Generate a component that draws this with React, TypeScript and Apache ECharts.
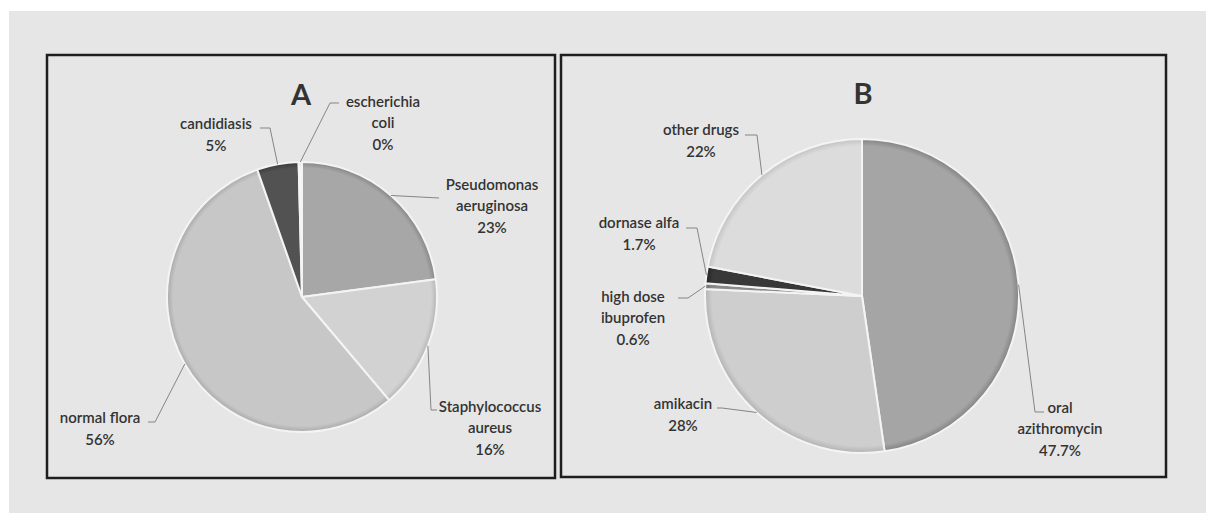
import React, { useEffect, useRef } from "react";
import * as echarts from "echarts";

// ---- Data ----
const categoriesA = [
  "Pseudomonas\naeruginosa",
  "Staphylococcus\naureus",
  "normal flora",
  "candidiasis",
  "escherichia\ncoli",
];
const valuesA = [23, 16, 56, 5, 0.4];

const categoriesB = [
  "oral\nazithromycin",
  "amikacin",
  "high dose\nibuprofen",
  "dornase alfa",
  "other drugs",
];
const valuesB = [47.7, 28, 0.6, 1.7, 22];

const titles = ["A", "B"];

// ---- Styles / layout ----
const colorsA = ["#a7a7a7", "#d2d2d2", "#c7c7c7", "#525252", "#f6f6f6"];
const rimsA = ["#858585", "#b5b5b5", "#a9a9a9", "#3a3a3a", "#e0e0e0"];
const colorsB = ["#a5a5a5", "#cecece", "#8a8a8a", "#383838", "#dcdcdc"];
const rimsB = ["#828282", "#b2b2b2", "#707070", "#262626", "#c2c2c2"];

const PIE_A = { cx: 302, cy: 297, r: 135 };
const PIE_B = { cx: 862, cy: 296, r: 157 };

const labelPosA = [
  [492, 205],
  [490, 427],
  [100, 428],
  [216, 134],
  [383, 122],
];
const leaderA = [
  [[439, 198]],
  [[431, 410], [437, 410]],
  [[155, 422], [148, 422]],
  [[270, 128], [260, 128]],
  [[330, 103], [339, 103]],
];
const labelPosB = [
  [1060, 428],
  [683, 414],
  [633, 317],
  [639, 233],
  [701, 140],
];
const leaderB = [
  [[1035, 412], [1044, 412]],
  [[722, 408], [717, 408]],
  [[688, 298], [678, 298]],
  [[697, 228], [686, 228]],
  [[757, 135], [745, 135]],
];

const FONT = "Lato, 'Liberation Sans', sans-serif";

function midPoint(values: number[], i: number, pie: { cx: number; cy: number; r: number }) {
  const sum = values.reduce((a, b) => a + b, 0);
  let cum = 0;
  for (let k = 0; k < i; k++) cum += values[k];
  const frac = (cum + values[i] / 2) / sum;
  const th = ((90 - frac * 360) * Math.PI) / 180;
  return [pie.cx + pie.r * Math.cos(th), pie.cy - pie.r * Math.sin(th)];
}

function rimFill(pie: { cx: number; cy: number; r: number }, c: string, rim: string) {
  return {
    type: "radial",
    x: pie.cx,
    y: pie.cy,
    r: pie.r,
    global: true,
    colorStops: [
      { offset: 0, color: c },
      { offset: 0.955, color: c },
      { offset: 1, color: rim },
    ],
  };
}

export default function App() {
  const ref = useRef<HTMLDivElement>(null);
  useEffect(() => {
    if (!ref.current) return;
    const chart = echarts.init(ref.current, undefined, { renderer: "svg" });

    const leaders: any[] = [];
    valuesA.forEach((_, i) => {
      leaders.push({
        type: "polyline",
        z: 10,
        shape: { points: [midPoint(valuesA, i, PIE_A), ...leaderA[i]] },
        style: { stroke: "#858585", lineWidth: 1, fill: "none" },
      });
    });
    valuesB.forEach((_, i) => {
      leaders.push({
        type: "polyline",
        z: 10,
        shape: { points: [midPoint(valuesB, i, PIE_B), ...leaderB[i]] },
        style: { stroke: "#858585", lineWidth: 1, fill: "none" },
      });
    });

    const labelStyle = {
      show: true,
      position: "outside",
      fontFamily: FONT,
      fontSize: 15,
      lineHeight: 21.5,
      color: "#333",
      fontWeight: 600,
      align: "center",
    };

    chart.setOption({
      animation: false,
      backgroundColor: "#ffffff",
      graphic: [
        {
          type: "rect",
          z: -10,
          shape: { x: 9, y: 11, width: 1197, height: 502 },
          style: { fill: "#e6e6e6" },
        },
        {
          type: "rect",
          z: 20,
          shape: { x: 47, y: 55, width: 508, height: 423 },
          style: { fill: "none", stroke: "#1e1e1e", lineWidth: 2.5 },
        },
        {
          type: "rect",
          z: 20,
          shape: { x: 561, y: 55, width: 605, height: 422 },
          style: { fill: "none", stroke: "#1e1e1e", lineWidth: 2.5 },
        },
        {
          type: "text",
          z: 20,
          x: 301,
          y: 93,
          style: {
            text: titles[0],
            font: `bold 29px ${FONT}`,
            fill: "#333",
            align: "center",
            verticalAlign: "middle",
          },
        },
        {
          type: "text",
          z: 20,
          x: 863,
          y: 92,
          style: {
            text: titles[1],
            font: `bold 29px ${FONT}`,
            fill: "#333",
            align: "center",
            verticalAlign: "middle",
          },
        },
        ...leaders,
      ],
      series: [
        {
          type: "pie",
          center: [PIE_A.cx, PIE_A.cy],
          radius: PIE_A.r,
          startAngle: 90,
          clockwise: true,
          avoidLabelOverlap: false,
          itemStyle: { borderColor: "#f4f4f4", borderWidth: 2 },
          label: {
            ...labelStyle,
            formatter: (p: any) => `${p.name}\n${Math.round(p.value)}%`,
          },
          labelLine: { show: false },
          labelLayout: (p: any) => ({
            x: labelPosA[p.dataIndex][0],
            y: labelPosA[p.dataIndex][1],
            align: "center",
            verticalAlign: "middle",
          }),
          emphasis: { disabled: true },
          data: categoriesA.map((n, i) => ({
            name: n,
            value: valuesA[i],
            itemStyle: { color: rimFill(PIE_A, colorsA[i], rimsA[i]) },
          })),
        },
        {
          type: "pie",
          center: [PIE_B.cx, PIE_B.cy],
          radius: PIE_B.r,
          startAngle: 90,
          clockwise: true,
          avoidLabelOverlap: false,
          itemStyle: { borderColor: "#f4f4f4", borderWidth: 2 },
          label: {
            ...labelStyle,
            formatter: (p: any) => `${p.name}\n${p.value}%`,
          },
          labelLine: { show: false },
          labelLayout: (p: any) => ({
            x: labelPosB[p.dataIndex][0],
            y: labelPosB[p.dataIndex][1],
            align: "center",
            verticalAlign: "middle",
          }),
          emphasis: { disabled: true },
          data: categoriesB.map((n, i) => ({
            name: n,
            value: valuesB[i],
            itemStyle: { color: rimFill(PIE_B, colorsB[i], rimsB[i]) },
          })),
        },
      ],
    });
    return () => chart.dispose();
  }, []);
  return (
    <div
      ref={ref}
      style={{ position: "absolute", left: 0, top: 0, width: 1206, height: 513 }}
    />
  );
}
